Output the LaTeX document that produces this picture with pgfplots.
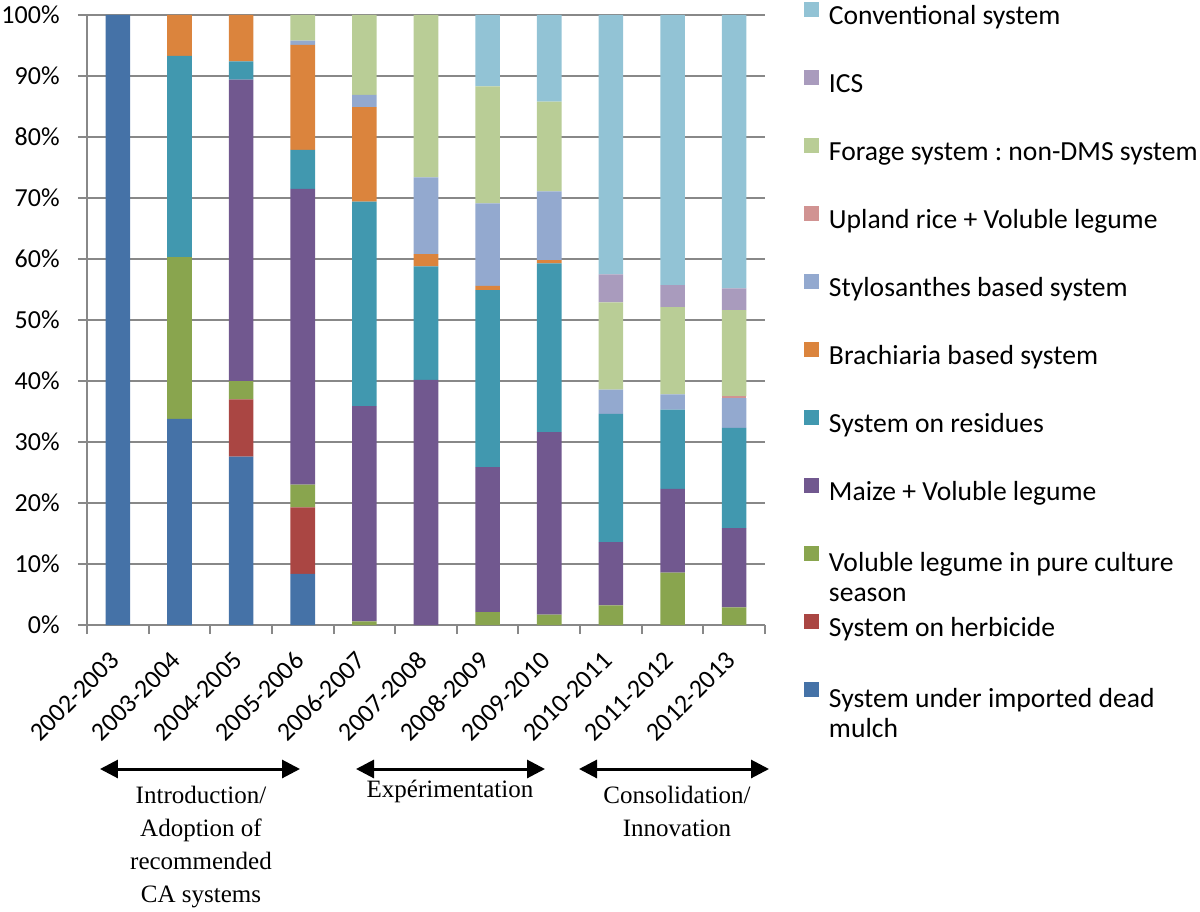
\documentclass[border=0pt]{standalone}
\usepackage{pgfplots}
\pgfplotsset{compat=1.18}
\usepackage{fontspec}
\setmainfont{Carlito}
\newfontfamily\serif{Liberation Serif}
\usetikzlibrary{arrows.meta}

\definecolor{cMulch}{HTML}{4572A7}
\definecolor{cHerb}{HTML}{AA4643}
\definecolor{cPure}{HTML}{89A54E}
\definecolor{cMaize}{HTML}{71588F}
\definecolor{cResid}{HTML}{4198AF}
\definecolor{cBrach}{HTML}{DB843D}
\definecolor{cStylo}{HTML}{93A9CF}
\definecolor{cRice}{HTML}{D19392}
\definecolor{cForage}{HTML}{B9CD96}
\definecolor{cICS}{HTML}{A99BBD}
\definecolor{cConv}{HTML}{92C3D5}
\definecolor{gridgray}{HTML}{888888}

% fixed-height legend texts, so every row has the same pitch
\newcommand{\lentry}[1]{\raisebox{0pt}[9.5pt][3.5pt]{#1}}
\newcommand{\ltwo}[2]{\raisebox{-1.5pt}[9.5pt][3.5pt]{\begin{tabular}[t]{@{}l@{}}#1\\#2\end{tabular}}}
\newcommand{\tickfont}{\fontsize{13}{16}\selectfont}

\begin{document}
\begin{tikzpicture}
\useasboundingbox (-43.5pt,-143pt) rectangle (556.5pt,312.5pt);
\begin{axis}[
  ybar stacked,
  scale only axis,
  width=339pt, height=305pt,
  bar width=12.3pt,
  xmin=-0.5, xmax=10.5,
  ymin=0, ymax=100,
  xtick={0,...,10},
  xticklabels={2002-2003,2003-2004,2004-2005,2005-2006,2006-2007,2007-2008,2008-2009,2009-2010,2010-2011,2011-2012,2012-2013},
  minor xtick={-0.5,0.5,...,10.5},
  ytick={0,10,...,100},
  yticklabel={\pgfmathprintnumber{\tick}\%},
  axis x line*=bottom,
  axis y line*=left,
  axis line style={draw=gridgray, line width=1pt},
  ymajorgrids,
  major grid style={draw=gridgray, line width=1pt},
  tick align=outside,
  major tick length=4.5pt,
  minor tick length=4.5pt,
  major x tick style={draw=none},
  minor x tick style={draw=gridgray, line width=1pt},
  major y tick style={draw=gridgray, line width=1pt},
  every tick label/.append style={/pgf/number format/assume math mode=true},
  xticklabel style={font=\tickfont, xshift=-1.5pt, yshift=-11pt, rotate=45, anchor=east, inner sep=0pt},
  yticklabel style={font=\tickfont, anchor=east, inner sep=0pt, xshift=-9pt},
  legend style={draw=none, fill=none, at={(1.0575,1.0215)}, anchor=north west,
    inner sep=0pt, outer sep=0pt, row sep=19pt, column sep=3pt,
    font=\fontsize{13.8}{15}\selectfont, cells={anchor=west, inner sep=0pt}},
  reverse legend,
  legend image code/.code={\fill[#1] (0pt,0pt) rectangle (7.5pt,7.5pt);},
  every axis plot/.append style={draw=none},
]
% System under imported dead mulch
\addplot[fill=cMulch] coordinates {(0,100) (1,33.8) (2,27.6) (3,8.4) (4,0) (5,0) (6,0) (7,0) (8,0) (9,0) (10,0)};
% System on herbicide
\addplot[fill=cHerb] coordinates {(0,0) (1,0) (2,9.4) (3,10.9) (4,0) (5,0) (6,0) (7,0) (8,0) (9,0) (10,0)};
% Voluble legume in pure culture season
\addplot[fill=cPure] coordinates {(0,0) (1,26.5) (2,3.0) (3,3.7) (4,0.6) (5,0) (6,2.1) (7,1.7) (8,3.2) (9,8.6) (10,2.9)};
% Maize + Voluble legume
\addplot[fill=cMaize] coordinates {(0,0) (1,0) (2,49.4) (3,48.5) (4,35.3) (5,40.2) (6,23.8) (7,29.9) (8,10.4) (9,13.7) (10,13.0)};
% System on residues
\addplot[fill=cResid] coordinates {(0,0) (1,33.0) (2,3.0) (3,6.4) (4,33.5) (5,18.6) (6,29.0) (7,27.7) (8,21.0) (9,13.0) (10,16.4)};
% Brachiaria based system
\addplot[fill=cBrach] coordinates {(0,0) (1,6.7) (2,7.6) (3,17.2) (4,15.5) (5,2.0) (6,0.7) (7,0.5) (8,0) (9,0) (10,0)};
% Stylosanthes based system
\addplot[fill=cStylo] coordinates {(0,0) (1,0) (2,0) (3,0.7) (4,2.0) (5,12.6) (6,13.5) (7,11.3) (8,4.0) (9,2.5) (10,4.9)};
% Upland rice + Voluble legume
\addplot[fill=cRice] coordinates {(0,0) (1,0) (2,0) (3,0) (4,0) (5,0) (6,0) (7,0) (8,0) (9,0) (10,0.3)};
% Forage system
\addplot[fill=cForage] coordinates {(0,0) (1,0) (2,0) (3,4.2) (4,13.1) (5,26.6) (6,19.2) (7,14.7) (8,14.3) (9,14.3) (10,14.1)};
% ICS
\addplot[fill=cICS] coordinates {(0,0) (1,0) (2,0) (3,0) (4,0) (5,0) (6,0) (7,0) (8,4.6) (9,3.6) (10,3.6)};
% Conventional system
\addplot[fill=cConv] coordinates {(0,0) (1,0) (2,0) (3,0) (4,0) (5,0) (6,11.7) (7,14.2) (8,42.5) (9,44.3) (10,44.8)};
\legend{
  {\ltwo{System under imported dead}{mulch}},
  {\lentry{System on herbicide}},
  {\ltwo{Voluble legume in pure culture}{season}},
  {\lentry{Maize + Voluble legume}},
  {\lentry{System on residues}},
  {\lentry{Brachiaria based system}},
  {\lentry{Stylosanthes based system}},
  {\lentry{Upland rice + Voluble legume}},
  {\lentry{Forage system :\ non-DMS system}},
  {\lentry{ICS}},
  {\lentry{Conventional system}}}
\end{axis}
% phase arrows and labels below the axis
\begin{scope}[line width=1.5pt, {Triangle[length=9pt,width=9pt]}-{Triangle[length=9pt,width=9pt]}]
  \draw (6.5pt,-72pt) -- (106.5pt,-72pt);
  \draw (134.5pt,-72pt) -- (229pt,-72pt);
  \draw (246pt,-72pt) -- (341pt,-72pt);
\end{scope}
\begin{scope}[every node/.style={inner sep=0pt, align=center, anchor=north,
    font=\serif\fontsize{12.5}{16.5}\selectfont}]
  \node at (57pt,-80.5pt) {Introduction/\\Adoption of\\recommended\\CA systems};
  \node at (181.5pt,-77.5pt) {Expérimentation};
  \node at (295pt,-80.5pt) {Consolidation/\\Innovation};
\end{scope}
\end{tikzpicture}
\end{document}
